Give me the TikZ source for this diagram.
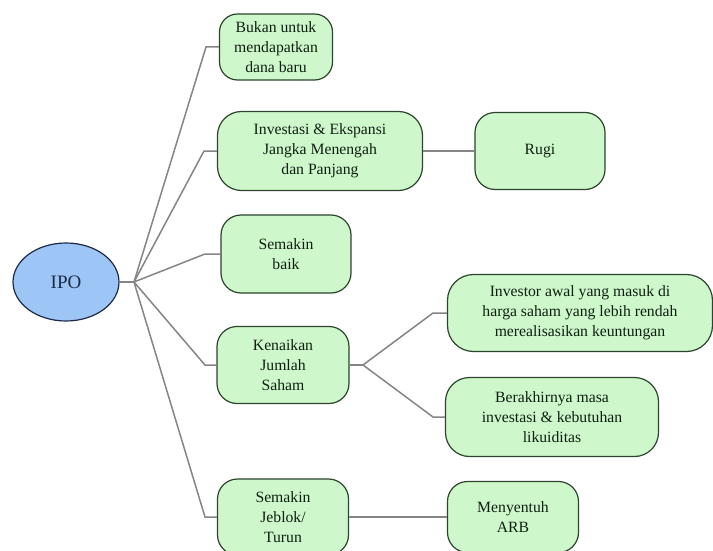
\documentclass[tikz,border=0pt]{standalone}
\usepackage{fontspec}
\setmainfont{Liberation Serif}
\usetikzlibrary{shapes.geometric}
\definecolor{boxfill}{HTML}{CEF7CC}
\definecolor{boxline}{HTML}{2C452C}
\definecolor{ipofill}{HTML}{9DC5F5}
\definecolor{ipoline}{HTML}{1E2B48}
\definecolor{conncol}{HTML}{858585}
\definecolor{txt}{HTML}{102010}
\begin{document}
\begin{tikzpicture}[x=1pt,y=-1pt,
  box/.style={draw=boxline, fill=boxfill, line width=1.2pt, rounded corners=20pt,
    align=center, inner sep=0pt, text=txt, font=\fontsize{15.7}{20}\selectfont},
  ipostyle/.style={ellipse, draw=ipoline, fill=ipofill, line width=1.2pt, inner sep=0pt,
    text=ipoline, font=\fontsize{19}{22}\selectfont},
  conn/.style={draw=conncol, line width=1.5pt}]
\useasboundingbox (0,0) rectangle (713,551);
\fill[white] (0,0) rectangle (713,551);

\node[ipostyle, minimum width=106pt, minimum height=78pt] (ipo) at (66,282) {IPO};
\coordinate (j) at (134,282);

\node[box, minimum width=113pt, minimum height=66pt, rounded corners=18pt] (b1) at (276,47) {Bukan untuk\\mendapatkan\\dana baru};
\node[box, minimum width=205pt, minimum height=79pt, rounded corners=24pt] (b2) at (320,151) {Investasi \& Ekspansi\\Jangka Menengah\\dan Panjang};
\node[box, minimum width=130pt, minimum height=78pt] (b3) at (286,254) {Semakin\\baik};
\node[box, minimum width=132pt, minimum height=77pt] (b4) at (283,365) {Kenaikan\\Jumlah\\Saham};
\node[box, minimum width=131pt, minimum height=76pt] (b5) at (283,517) {Semakin\\Jeblok/\\Turun};

\node[box, minimum width=130pt, minimum height=77pt] (rugi) at (540,151) {Rugi};
\node[box, minimum width=265pt, minimum height=77pt, rounded corners=26pt] (inv) at (580,313) {Investor awal yang masuk di\\harga saham yang lebih rendah\\merealisasikan keuntungan};
\node[box, minimum width=213pt, minimum height=79pt, rounded corners=24pt] (ber) at (552,417) {Berakhirnya masa\\investasi \& kebutuhan\\likuiditas};
\node[box, minimum width=131pt, minimum height=71pt] (arb) at (513,517) {Menyentuh\\ARB};

\coordinate (k1) at (206,47);
\coordinate (k2) at (204,151);
\coordinate (k3) at (205,254);
\coordinate (k4) at (205,365);
\coordinate (k5) at (205,517);
\coordinate (j4) at (363,365);
\coordinate (ka) at (433,313);
\coordinate (kb) at (433,417);

\draw[conn] (ipo.east) -- (j);
\draw[conn] (j) -- (k1) -- (b1.west);
\draw[conn] (j) -- (k2) -- (b2.west);
\draw[conn] (j) -- (k3) -- (b3.west);
\draw[conn] (j) -- (k4) -- (b4.west);
\draw[conn] (j) -- (k5) -- (b5.west);
\draw[conn] (b2.east) -- (rugi.west);
\draw[conn] (b4.east) -- (j4);
\draw[conn] (j4) -- (ka) -- (inv.west);
\draw[conn] (j4) -- (kb) -- (ber.west);
\draw[conn] (b5.east) -- (arb.west);
\end{tikzpicture}
\end{document}
